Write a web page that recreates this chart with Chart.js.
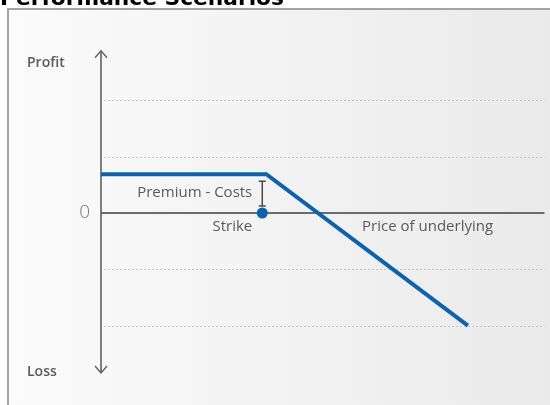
<!DOCTYPE html>
<html>
<head>
<meta charset="utf-8">
<script src="https://cdn.jsdelivr.net/npm/chart.js"></script>
<style>
  html, body { margin: 0; padding: 0; background: #fff; }
  #wrap { width: 550px; height: 405px; position: relative; }
</style>
</head>
<body>
<div id="wrap"><canvas id="chart" width="550" height="405"></canvas></div>
<script>
// payoff profile (price units, profit units)
const priceX = [0, 4.1, 9.1];
const profitY = [0.69, 0.69, -2];
const strikePrice = 4;
const premiumValue = 0.69;
const gridTicks = [-2, -1, 1, 2];

const titleText = 'Performance Scenarios';
const axisLabels = { top: 'Profit', bottom: 'Loss', zero: '0', x: 'Price of underlying' };
const noteLabels = { premium: 'Premium - Costs', strike: 'Strike' };

const BLUE = '#0b62b0';
const TEXT = '#5a5a5a';
const FONT = '"Open Sans", "Noto Sans", sans-serif';

// frame, background and title
const framePlugin = {
  id: 'frame',
  beforeDraw(chart) {
    const { ctx } = chart;
    ctx.save();
    const grad = ctx.createLinearGradient(8, 0, 550, 0);
    grad.addColorStop(0, '#fbfbfb');
    grad.addColorStop(1, '#eaeaea');
    ctx.fillStyle = grad;
    ctx.fillRect(8, 9, 542, 396);
    ctx.strokeStyle = '#a4a4a4';
    ctx.lineWidth = 2;
    ctx.beginPath();
    ctx.moveTo(8, 410);
    ctx.lineTo(8, 9);
    ctx.lineTo(552, 9);
    ctx.stroke();
    ctx.fillStyle = '#000';
    ctx.font = 'bold 22px "DejaVu Sans", Verdana, sans-serif';
    ctx.textBaseline = 'alphabetic';
    ctx.fillText(titleText, 0, 5, 284);
    ctx.restore();
  },
};

// grid lines, zero axis, profit axis with arrows, labels
const axesPlugin = {
  id: 'axesDecor',
  beforeDatasetsDraw(chart) {
    const { ctx, chartArea, scales } = chart;
    const xs = scales.x;
    const ys = scales.y;
    const x0 = chartArea.left;
    ctx.save();

    ctx.strokeStyle = '#c6c6c6';
    ctx.lineWidth = 1;
    ctx.setLineDash([2, 2]);
    gridTicks.forEach((v) => {
      const py = Math.round(ys.getPixelForValue(v)) + 0.5;
      ctx.beginPath();
      ctx.moveTo(x0 + 3, py);
      ctx.lineTo(chartArea.right, py);
      ctx.stroke();
    });
    ctx.setLineDash([]);

    // zero line
    const zy = ys.getPixelForValue(0);
    ctx.strokeStyle = '#6b6b6b';
    ctx.lineWidth = 2;
    ctx.beginPath();
    ctx.moveTo(x0, zy);
    ctx.lineTo(chartArea.right, zy);
    ctx.stroke();

    // vertical profit/loss axis
    const topY = ys.getPixelForValue(2.88);
    const botY = ys.getPixelForValue(-2.84);
    ctx.strokeStyle = '#5f5f5f';
    ctx.lineWidth = 1.6;
    ctx.beginPath();
    ctx.moveTo(x0, topY);
    ctx.lineTo(x0, botY);
    ctx.stroke();
    ctx.lineWidth = 1.3;
    ctx.beginPath();
    ctx.moveTo(x0 - 6, topY + 7);
    ctx.lineTo(x0, topY);
    ctx.lineTo(x0 + 6, topY + 7);
    ctx.moveTo(x0 - 6, botY - 7);
    ctx.lineTo(x0, botY);
    ctx.lineTo(x0 + 6, botY - 7);
    ctx.stroke();

    // premium marker
    const sx = xs.getPixelForValue(strikePrice);
    const py1 = ys.getPixelForValue(premiumValue) + 7;
    const py2 = zy - 7;
    ctx.strokeStyle = '#4a4a4a';
    ctx.lineWidth = 1.5;
    ctx.beginPath();
    ctx.moveTo(sx, py1);
    ctx.lineTo(sx, py2);
    ctx.moveTo(sx - 3.5, py1);
    ctx.lineTo(sx + 3.5, py1);
    ctx.moveTo(sx - 3.5, py2);
    ctx.lineTo(sx + 3.5, py2);
    ctx.stroke();

    // texts
    ctx.fillStyle = TEXT;
    ctx.textBaseline = 'middle';
    ctx.font = `600 14px ${FONT}`;
    ctx.textAlign = 'left';
    ctx.fillText(axisLabels.top, 27, topY + 12);
    ctx.fillText(axisLabels.bottom, 27, botY - 1);
    ctx.font = `300 19px ${FONT}`;
    ctx.fillStyle = '#777';
    ctx.textAlign = 'right';
    ctx.fillText(axisLabels.zero, 90, zy);
    ctx.fillStyle = TEXT;
    ctx.font = `15px ${FONT}`;
    ctx.fillText(noteLabels.premium, sx - 10, (py1 + py2) / 2 - 1);
    ctx.fillText(noteLabels.strike, sx - 10, zy + 14);
    ctx.textAlign = 'center';
    ctx.fillText(axisLabels.x, xs.getPixelForValue(8.1), zy + 14);
    ctx.restore();
  },
};

new Chart(document.getElementById('chart'), {
  type: 'scatter',
  data: {
    datasets: [
      {
        data: priceX.map((x, i) => ({ x, y: profitY[i] })),
        showLine: true,
        borderColor: BLUE,
        borderWidth: 4,
        pointRadius: 0,
        borderCapStyle: 'butt',
        borderJoinStyle: 'miter',
        clip: false,
      },
      {
        data: [{ x: strikePrice, y: 0 }],
        pointRadius: 5.5,
        backgroundColor: BLUE,
        borderColor: BLUE,
        borderWidth: 0,
      },
    ],
  },
  options: {
    responsive: false,
    animation: false,
    events: [],
    layout: { padding: { left: 101, right: 4, top: 44, bottom: 23 } },
    plugins: { legend: { display: false }, tooltip: { enabled: false } },
    scales: {
      x: { type: 'linear', min: 0, max: 11, display: false },
      y: { type: 'linear', min: -3, max: 3, display: false },
    },
  },
  plugins: [framePlugin, axesPlugin],
});
</script>
</body>
</html>
